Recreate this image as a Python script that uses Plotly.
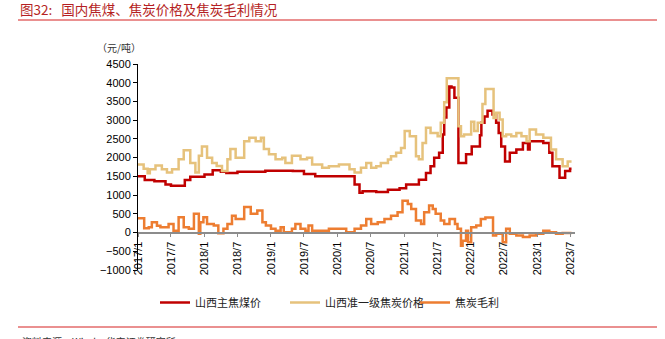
import plotly.graph_objects as go

# ---- data ----
coal_dates = ["2017-01-01","2017-02-07","2017-04-01","2017-06-01","2017-07-01","2017-09-15","2017-10-15",
 "2018-01-01","2018-02-15","2018-04-01","2018-05-01","2018-07-01","2018-12-01","2019-05-01","2019-07-01",
 "2019-09-01","2020-04-04","2020-05-01","2020-05-18","2020-08-01","2020-10-04","2020-12-07","2021-01-12",
 "2021-03-23","2021-05-01","2021-05-26","2021-06-15","2021-07-12","2021-08-01","2021-08-09","2021-08-21",
 "2021-09-06","2021-09-18","2021-10-04","2021-10-26","2021-12-07","2022-01-07","2022-02-21","2022-03-01",
 "2022-03-18","2022-04-04","2022-05-01","2022-05-21","2022-06-04","2022-06-18","2022-07-09","2022-08-04",
 "2022-09-09","2022-10-15","2022-11-12","2022-11-21","2023-02-04","2023-03-09","2023-03-26","2023-05-04",
 "2023-06-04","2023-07-01","2023-07-09"]
coal_price = [1500,1400,1370,1280,1250,1400,1490,
 1550,1660,1620,1590,1620,1650,1640,1560,
 1500,1280,1060,1100,1080,1140,1180,1280,
 1410,1590,1770,2000,2130,2620,3070,3340,
 3900,3870,3600,1860,2090,2300,2600,2930,
 3100,3250,3150,2930,2660,2300,1900,2130,
 2220,2390,2220,2440,2390,2130,1770,1460,
 1640,1700,1700]

coke_dates = ["2017-01-01","2017-02-01","2017-02-23","2017-03-07","2017-04-07","2017-05-12","2017-06-09",
 "2017-07-07","2017-08-12","2017-09-09","2017-10-15","2017-11-12","2017-12-01","2017-12-18","2018-01-15",
 "2018-02-12","2018-03-09","2018-04-07","2018-05-07","2018-05-23","2018-06-21","2018-08-07","2018-09-04",
 "2018-10-09","2018-11-07","2018-11-23","2018-12-21","2019-01-26","2019-03-04","2019-03-21","2019-04-26",
 "2019-06-12","2019-07-18","2019-08-15","2019-10-09","2019-11-15","2020-01-09","2020-03-07","2020-04-04",
 "2020-05-09","2020-06-07","2020-07-04","2020-08-01","2020-08-26","2020-10-04","2020-10-21","2020-11-18",
 "2020-12-15","2021-01-04","2021-02-01","2021-03-07","2021-03-23","2021-04-12","2021-05-01","2021-05-26",
 "2021-07-04","2021-07-21","2021-08-09","2021-08-23","2021-10-26","2021-11-09","2021-11-26","2022-01-04",
 "2022-01-21","2022-02-09","2022-03-07","2022-03-23","2022-05-07","2022-05-21","2022-06-09","2022-06-26",
 "2022-07-15","2022-08-12","2022-09-09","2022-10-07","2022-11-04","2022-11-21","2022-12-26","2023-02-04",
 "2023-03-18","2023-04-15","2023-05-21","2023-06-18","2023-07-09"]
coke_price = [1820,1700,1580,1690,1790,1690,1600,
 1690,1960,2200,1860,1600,2050,2300,2000,
 1860,1780,1640,1960,2230,2000,2440,2530,
 2440,2530,2230,2090,1960,2000,1860,2050,
 1960,2000,1820,1730,1770,1820,1690,1600,
 1730,1860,1730,1770,1860,1950,2040,2130,
 2260,2710,2570,2040,1960,2390,2800,2660,
 2570,2930,3480,4120,2840,2570,2620,2960,
 2710,2930,3430,3830,3060,3200,3020,2570,
 2620,2570,2660,2570,2440,2750,2620,2530,
 2220,1960,1770,1900,1900]

margin_dates = ["2017-01-01","2017-02-04","2017-03-01","2017-03-18","2017-04-15","2017-05-04","2017-06-18",
 "2017-07-15","2017-08-12","2017-09-09","2017-10-07","2017-11-04","2017-12-01","2017-12-09","2017-12-26",
 "2018-01-15","2018-02-21","2018-03-18","2018-04-15","2018-05-07","2018-06-01","2018-06-21","2018-08-07",
 "2018-09-12","2018-10-18","2018-11-15","2018-12-04","2019-01-01","2019-01-26","2019-02-23","2019-03-12",
 "2019-04-26","2019-05-15","2019-06-12","2019-07-09","2019-07-26","2019-08-15","2019-11-15","2020-02-18",
 "2020-04-04","2020-05-09","2020-06-07","2020-07-04","2020-08-09","2020-09-15","2020-10-21","2020-11-26",
 "2020-12-23","2021-01-21","2021-02-09","2021-03-07","2021-04-04","2021-04-21","2021-05-18","2021-06-07",
 "2021-06-23","2021-07-21","2021-08-09","2021-09-07","2021-10-07","2021-10-21","2021-11-09","2021-11-18",
 "2021-12-07","2021-12-18","2022-01-04","2022-02-01","2022-02-26","2022-03-23","2022-05-04","2022-05-21",
 "2022-06-26","2022-07-15","2022-08-04","2022-09-09","2022-10-15","2022-11-21","2022-12-26","2023-02-04",
 "2023-03-09","2023-04-15","2023-05-21","2023-07-09"]
coke_margin = [380,118,142,275,180,142,230,
 50,410,142,100,500,-30,275,410,
 230,185,-20,100,230,450,360,680,
 500,590,275,185,100,50,142,5,
 100,230,100,50,185,50,100,5,
 100,185,360,230,275,360,450,540,
 850,760,630,320,230,540,720,630,
 500,320,230,360,230,100,-350,-220,
 50,-260,140,185,360,400,-80,-30,
 -260,100,-30,-80,-120,-80,-30,50,
 5,-30,-10,-10]

tick_dates = ["2017-01-01","2017-07-01","2018-01-01","2018-07-01","2019-01-01","2019-07-01","2020-01-01",
 "2020-07-01","2021-01-01","2021-07-01","2022-01-01","2022-07-01","2023-01-01","2023-07-01"]
tick_labels = ["2017/1","2017/7","2018/1","2018/7","2019/1","2019/7","2020/1",
 "2020/7","2021/1","2021/7","2022/1","2022/7","2023/1","2023/7"]

series_names = ["山西主焦煤价", "山西准一级焦炭价格", "焦炭毛利"]
colors = ["#C00000", "#E6C27C", "#ED7D31"]

fig = go.Figure()
for name, xs, ys, c in zip(series_names,
                           [coal_dates, coke_dates, margin_dates],
                           [coal_price, coke_price, coke_margin], colors):
    fig.add_trace(go.Scatter(x=xs, y=ys, name=name, mode="lines",
                             line=dict(color=c, width=2.5, shape="hv")))

# plot area in pixels: left 138, top 64, width 437, height 206
PL, PT, PW, PH = 138, 64, 437, 206
def px(x):
    return (x - PL) / PW
def py(y):
    return (PT + PH - y) / PH

ymin, ymax = -1000, 4500
fig.update_layout(
    width=665, height=339,
    margin=dict(l=PL, r=665 - PL - PW, t=PT, b=339 - PT - PH),
    paper_bgcolor="white", plot_bgcolor="white",
    font=dict(family="Liberation Sans, Arial, sans-serif", size=11, color="black"),
    showlegend=True,
    legend=dict(orientation="h", x=px(155), xanchor="left", y=py(288), yanchor="top",
                font=dict(family="Noto Sans CJK SC", size=11, color="#222"),
                itemwidth=30, entrywidth=85, entrywidthmode="pixels", tracegroupgap=0),
    xaxis=dict(range=["2017-01-01", "2023-07-28"], tickmode="array", tickvals=tick_dates,
               ticktext=tick_labels, tickangle=-90, showgrid=False, zeroline=False,
               showline=True, linecolor="#8c8c8c", linewidth=1.5, ticks="outside",
               ticklen=4, tickcolor="#8c8c8c", anchor="free",
               position=(0 - ymin) / (ymax - ymin), tickfont=dict(size=11)),
    yaxis=dict(range=[ymin, ymax], dtick=500, showgrid=False, zeroline=False,
               showline=True, linecolor="black", linewidth=1, ticks="outside",
               ticklen=4, tickcolor="black", tickfont=dict(size=11)),
)

# title, unit, separator lines, source
fig.add_annotation(text="图32:   国内焦煤、焦炭价格及焦炭毛利情况", xref="paper", yref="paper",
                   x=px(18), y=py(9), xanchor="left", yanchor="middle",
                   showarrow=False, font=dict(family="Noto Sans CJK SC", size=13.5, color="#B51F24"))
fig.add_annotation(text="（元/吨）", xref="paper", yref="paper",
                   x=px(143), y=py(47), xanchor="right", yanchor="middle", showarrow=False,
                   font=dict(family="Noto Sans CJK SC", size=10, color="#333"))
fig.add_shape(type="line", xref="paper", yref="paper", x0=px(18), x1=px(657),
              y0=py(20), y1=py(20), line=dict(color="#E36B6B", width=1.5))
fig.add_shape(type="line", xref="paper", yref="paper", x0=px(18), x1=px(657),
              y0=py(327), y1=py(327), line=dict(color="#E36B6B", width=1.5))
fig.add_annotation(text="资料来源：Wind，华安证券研究所", xref="paper", yref="paper",
                   x=px(20), y=py(332), xanchor="left", yanchor="top",
                   showarrow=False, font=dict(family="Noto Sans CJK SC", size=10, color="#333"))

fig.write_html("out.html")
